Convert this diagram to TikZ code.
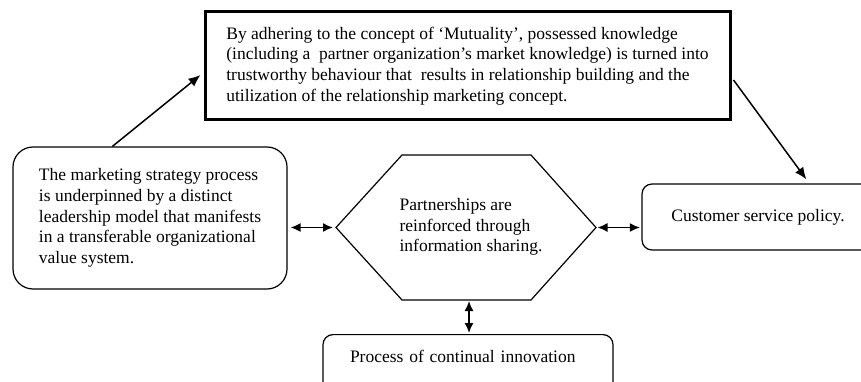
\documentclass[tikz,border=0pt]{standalone}
\usepackage{fontspec}
\setmainfont{Liberation Serif}
\usetikzlibrary{arrows.meta}
\begin{document}
\begin{tikzpicture}[x=1pt, y=-1pt, line width=1.2pt,
  txt/.style = {font=\fontsize{17.5}{20.7}\selectfont},
  arr/.style = {-{Latex[length=12pt,width=10pt]}, line width=1.5pt},
  dbl/.style = {{Latex[length=10pt,width=9pt]}-{Latex[length=10pt,width=9pt]}, line width=1.5pt}]
\useasboundingbox (0,0) rectangle (861,382);
\clip (0,0) rectangle (861,382);
\node[txt, draw, line width=3pt, minimum width=525pt, minimum height=108pt, align=left] (focus) at (467.5,66)
  {By adhering to the concept of ‘Mutuality’, possessed knowledge\\(including a\ \ partner organization’s market knowledge) is turned into\\trustworthy behaviour that\ \ results in relationship building and the\\utilization of the relationship marketing concept.};
\node[txt, draw, rounded corners=20pt, minimum width=274pt, minimum height=142pt, align=left] (lead) at (150,218)
  {The marketing strategy process\\is underpinned by a distinct\\leadership model that manifests\\in a transferable organizational\\value system.};
% hexagon in the middle
\draw (336,227.5) coordinate (hexW) -- (402,155) -- (531,155) -- (596,227.5) coordinate (hexE) -- (531,300) -- (402,300) -- cycle;
\coordinate (hexS) at (469,300);
\node[txt, align=left] (hub) at (471,227) {Partnerships are\\reinforced through\\information sharing.};
\node[txt, draw, rounded corners=10pt, minimum width=232pt, minimum height=66pt] (csp) at (758,217) {Customer service policy.};
\node[txt, draw, rounded corners=10pt, minimum width=290pt, text width=236pt, align=left, text height=13pt, text depth=45pt, inner ysep=15pt, anchor=north] (innov) at (468,334) {Process of continual innovation};
% connectors
\draw[arr] ([xshift=100pt]lead.north west) -- ([shift={(-3pt,-9pt)}]focus.west);
\draw[arr] ([shift={(2pt,-14pt)}]focus.east) -- ([shift={(165pt,4pt)}]csp.north west);
\draw[dbl, shorten <=3pt, shorten >=3pt] (hexW -| lead.east) -- (hexW);
\draw[dbl, shorten <=1.5pt, shorten >=1.5pt] (hexE) -- (hexE -| csp.west);
\draw[dbl, shorten <=1pt, shorten >=1pt] (hexS) -- (hexS |- innov.north);
\end{tikzpicture}
\end{document}
